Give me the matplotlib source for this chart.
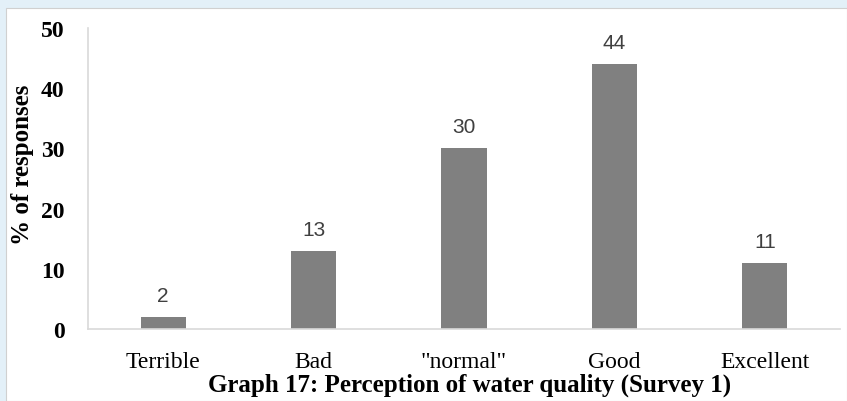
import matplotlib
matplotlib.use("Agg")
import matplotlib.pyplot as plt
from matplotlib.patches import Rectangle

categories = ["Terrible", "Bad", "\"normal\"", "Good", "Excellent"]
values = [2, 13, 30, 44, 11]
yticks = [0, 10, 20, 30, 40, 50]
title = "Graph 17: Perception of water quality (Survey 1)"
ylabel = "% of responses"

W, H = 847, 402
fig = plt.figure(figsize=(W / 100, H / 100), dpi=100)
fig.patch.set_facecolor("#E3F0F8")
fig.patches.append(Rectangle((6 / W, 0), 1 - 6 / W, 1 - 9 / H, transform=fig.transFigure,
                             facecolor="white", edgecolor="#D0D0D0", linewidth=0.8, zorder=-5))

ax = fig.add_axes([88 / W, 1 - 330 / H, (840 - 88) / W, (330 - 29) / H])
ax.set_zorder(2)
ax.set_facecolor("white")
x = range(len(categories))
ax.bar(x, values, width=0.3, color="#808080", zorder=2)
ax.set_xlim(-0.5, len(categories) - 0.5)
ax.set_ylim(0, 50)
ax.set_yticks(yticks)
ax.set_yticklabels([str(v) for v in yticks], fontfamily="Liberation Serif",
                   fontweight="bold", fontsize=17)
ax.set_xticks(list(x))
ax.set_xticklabels(categories, fontfamily="Liberation Serif", fontsize=17)
ax.tick_params(axis="both", length=0)
ax.tick_params(axis="y", pad=17)
ax.tick_params(axis="x", pad=16)
for s in ["top", "right"]:
    ax.spines[s].set_visible(False)
ax.spines["left"].set_color("#D9D9D9")
ax.spines["bottom"].set_color("#D9D9D9")
ax.spines["left"].set_linewidth(1.2)
ax.spines["bottom"].set_linewidth(1.2)

for xi, v in zip(x, values):
    ax.text(xi, v + 2.0, str(v), ha="center", va="bottom", fontsize=15,
            color="#404040", fontfamily="Liberation Sans")

fig.text(22 / W, 1 - 165 / H, ylabel, rotation=90, ha="center", va="center",
         fontfamily="Liberation Serif", fontweight="bold", fontsize=18)
fig.text(470 / W, 1 - 385 / H, title, ha="center", va="center",
         fontfamily="Liberation Serif", fontweight="bold", fontsize=18)

fig.savefig("out.png", dpi=100)
